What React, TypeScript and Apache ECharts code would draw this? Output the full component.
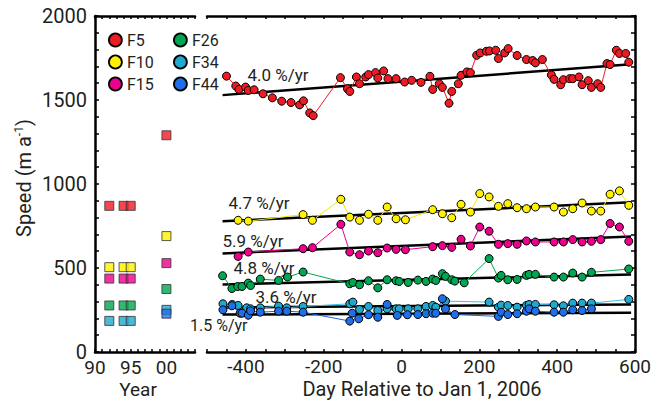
import React, { useEffect, useRef } from 'react';
import * as echarts from 'echarts';

const FONT = 'Roboto, "Noto Sans", sans-serif';
const TEXT = '#231f20';

const glacierNames = ['F5', 'F10', 'F15', 'F26', 'F34', 'F44'];
const markerColors = ['#ed1c24', '#fff200', '#ec008c', '#00a651', '#1fa8d0', '#1f6fe8'];
const lineColors = ['#ed1c24', '#f2e600', '#ec008c', '#00a651', '#3cbde0', '#1f5fe0'];

// Recent velocity series: [day relative to Jan 1 2006, speed m/a]
const f5 = [[-450,1642],[-426,1583],[-418,1563],[-401,1577],[-394,1557],[-379,1561],[-356,1537],[-332,1513],[-308,1493],[-284,1485],[-262,1471],[-252,1495],[-236,1423],[-227,1407],[-157,1633],[-139,1567],[-133,1551],[-116,1637],[-108,1597],[-92,1637],[-85,1651],[-67,1663],[-61,1631],[-46,1673],[-35,1627],[-14,1627],[8,1607],[26,1617],[50,1605],[73,1641],[80,1563],[97,1597],[105,1575],[122,1481],[129,1551],[146,1597],[153,1647],[168,1667],[177,1663],[193,1766],[202,1780],[218,1790],[226,1792],[242,1796],[249,1747],[265,1780],[274,1806],[297,1765],[321,1741],[337,1735],[344,1721],[362,1741],[385,1649],[392,1623],[409,1591],[416,1621],[432,1627],[440,1627],[456,1637],[464,1591],[480,1615],[488,1575],[504,1597],[512,1575],[528,1717],[536,1711],[552,1796],[560,1777],[576,1777],[584,1725]];
const f10 = [[-420,784],[-394,779],[-253,818],[-229,784],[-156,909],[-133,803],[-108,784],[-85,820],[-61,784],[-37,863],[-14,793],[10,787],[80,847],[105,823],[129,799],[153,879],[177,833],[201,943],[225,923],[249,867],[273,883],[297,859],[321,853],[344,863],[392,863],[416,833],[440,853],[464,887],[488,839],[512,839],[536,939],[560,959],[584,873]];
const f15 = [[-420,569],[-394,595],[-253,615],[-229,621],[-156,760],[-133,595],[-108,579],[-85,601],[-61,591],[-37,619],[-14,611],[10,609],[80,627],[105,633],[129,623],[153,671],[177,631],[201,744],[225,719],[249,641],[273,645],[297,641],[321,661],[344,655],[392,655],[416,655],[440,669],[464,655],[488,659],[512,669],[536,765],[560,744],[584,659]];
const f26 = [[-460,454],[-436,378],[-421,390],[-410,390],[-394,410],[-388,396],[-363,434],[-316,426],[-293,446],[-253,476],[-133,406],[-125,414],[-108,400],[-85,424],[-61,382],[-37,430],[-14,424],[-6,420],[17,414],[42,428],[63,420],[80,434],[88,426],[105,466],[113,450],[129,430],[137,422],[161,412],[225,556],[249,440],[256,456],[273,430],[297,432],[321,456],[328,462],[344,462],[392,446],[416,446],[440,470],[464,446],[488,474],[584,494]];
const f34 = [[-459,287],[-435,283],[-420,277],[-398,263],[-388,257],[-363,263],[-316,273],[-295,263],[-253,271],[-133,287],[-125,297],[-108,253],[-85,271],[-61,247],[-37,257],[-14,257],[-6,257],[17,257],[42,257],[63,271],[80,277],[88,267],[113,303],[225,297],[249,267],[256,279],[273,277],[297,267],[321,277],[328,283],[344,283],[392,281],[416,275],[440,291],[464,291],[488,291],[584,313]];
const f44 = [[-459,251],[-436,275],[-415,231],[-410,231],[-394,219],[-388,245],[-363,237],[-316,243],[-295,243],[-253,237],[-133,184],[-127,231],[-110,198],[-85,222],[-61,207],[-37,283],[-11,218],[15,222],[42,223],[63,228],[80,231],[88,231],[105,317],[113,257],[137,223],[249,212],[256,237],[273,223],[297,228],[321,243],[328,257],[344,243],[392,237],[416,237],[440,251],[464,247],[488,257]];
const recentSeries = [f5, f10, f15, f26, f34, f44];

// Linear trends (endpoints)
const trendDays = [-460, 590];
const trendF5 = [1529, 1713];
const trendF10 = [778, 891];
const trendF15 = [587, 688];
const trendF26 = [402, 462];
const trendF34 = [265, 283];
const trendF44 = [223, 233];
const trends = [trendF5, trendF10, trendF15, trendF26, trendF34, trendF44];
const rateLabels = ['4.0 %/yr', '4.7 %/yr', '5.9 %/yr', '4.8 %/yr', '3.6 %/yr', '1.5 %/yr'];

// Historic speeds
const historicYears = [1992, 1994, 1995, 2000];
const histF5 = [870, 870, 870, 1290];
const histF10 = [505, 505, 505, 690];
const histF15 = [437, 437, 437, 529];
const histF26 = [277, 277, 277, 375];
const histF34 = [185, 185, 185, 251];
const histF44 = [null, null, null, 228];
const historic = [histF5, histF10, histF15, histF26, histF34, histF44];

const yTicks = [0, 500, 1000, 1500, 2000];
const dayTicks = [-400, -200, 0, 200, 400, 600];

export default function App() {
  const ref = useRef<HTMLDivElement>(null);
  useEffect(() => {
    document.body.style.margin = '0';
    const chart = echarts.init(ref.current!, null, { renderer: 'svg' });
    const axisLine = { show: true, onZero: false, lineStyle: { color: '#000', width: 2.5 } };
    const tick = (len: number) => ({ show: true, inside: true, length: len, lineStyle: { color: '#000', width: 1.5 } });
    const labelStyle = { fontSize: 19, lineHeight: 16, color: TEXT, fontFamily: FONT };

    const series: any[] = [];
    glacierNames.forEach((name, i) => {
      series.push({
        name, type: 'line', xAxisIndex: 2, yAxisIndex: 1, data: recentSeries[i],
        symbol: 'circle', symbolSize: 8, z: 3,
        itemStyle: { color: markerColors[i], borderColor: '#000', borderWidth: 1 },
        lineStyle: { color: lineColors[i], width: 1 },
      });
    });
    trends.forEach((t, i) => {
      series.push({
        name: 'trend' + i, type: 'line', xAxisIndex: 2, yAxisIndex: 1,
        data: trendDays.map((d, k) => [d, t[k]]), symbol: 'none', z: 2, silent: true,
        lineStyle: { color: '#000', width: 2.5 },
      });
    });
    historic.forEach((h, i) => {
      series.push({
        name: glacierNames[i], type: 'scatter', xAxisIndex: 0, yAxisIndex: 0,
        data: historicYears.map((y, k) => [y, h[k]]).filter((p) => p[1] != null),
        symbol: 'rect', symbolSize: 9, z: 3,
        itemStyle: { color: markerColors[i], borderColor: '#333', borderWidth: 1 },
      });
    });

    const legendCommon = {
      orient: 'vertical', top: 27, icon: 'circle', itemWidth: 13, itemHeight: 13, itemGap: 6,
      selectedMode: false,
      itemStyle: { borderColor: '#000', borderWidth: 1.8 },
    };

    const rateText = (i: number, x: number, y: number, size = 17, align = 'center') => ({
      type: 'text', x, y, silent: true,
      style: { text: rateLabels[i], fontSize: size, fontFamily: FONT, fill: TEXT, align, verticalAlign: 'middle' },
    });

    chart.setOption({
      animation: false,
      textStyle: { fontFamily: FONT },
      grid: [
        { left: 95, top: 16, width: 100, height: 336 },
        { left: 207, top: 16, width: 428, height: 336 },
      ],
      xAxis: [
        { gridIndex: 0, type: 'value', min: 1990, max: 2004, interval: 1, position: 'bottom',
          axisLine, axisTick: tick(3), splitLine: { show: false },
          axisLabel: { ...labelStyle, margin: 7, interval: 0,
            formatter: (v: number) => (v % 5 === 0 ? String(v % 100).padStart(2, '0') : '') } },
        { gridIndex: 0, type: 'value', min: 1990, max: 2004, interval: 1, position: 'top',
          axisLine, axisTick: tick(3), splitLine: { show: false }, axisLabel: { show: false } },
        { gridIndex: 1, type: 'value', min: -500, max: 600, interval: 50, position: 'bottom',
          axisLine, axisTick: tick(3), splitLine: { show: false },
          axisLabel: { ...labelStyle, margin: 6,
            formatter: (v: number) => (dayTicks.includes(v) ? String(v) : '') } },
        { gridIndex: 1, type: 'value', min: -500, max: 600, interval: 50, position: 'top',
          axisLine, axisTick: tick(3), splitLine: { show: false }, axisLabel: { show: false } },
      ],
      yAxis: [
        { gridIndex: 0, type: 'value', min: 0, max: 2000, interval: 100, position: 'left',
          axisLine, axisTick: tick(4), splitLine: { show: false },
          axisLabel: { ...labelStyle, fontSize: 20, margin: 8,
            formatter: (v: number) => (yTicks.includes(v) ? String(v) : '') } },
        { gridIndex: 1, type: 'value', min: 0, max: 2000, interval: 100, position: 'right',
          axisLine, axisTick: tick(4), splitLine: { show: false }, axisLabel: { show: false } },
      ],
      legend: [
        { ...legendCommon, left: 103, data: glacierNames.slice(0, 3),
          textStyle: { fontSize: 16, lineHeight: 16, color: TEXT, fontFamily: FONT } },
        { ...legendCommon, left: 168, data: glacierNames.slice(3),
          textStyle: { fontSize: 16, lineHeight: 16, color: TEXT, fontFamily: FONT } },
      ],
      graphic: [
        { type: 'text', x: 24, y: 178, rotation: Math.PI / 2, silent: true,
          style: { text: 'Speed (m a{sup|-1})', fontSize: 20, fontFamily: FONT, fill: TEXT,
            align: 'center', verticalAlign: 'middle',
            rich: { sup: { fontSize: 12, fontFamily: FONT, fill: TEXT, verticalAlign: 'top', padding: [0, 0, 10, 0] } } } },
        { type: 'text', x: 138, y: 389, silent: true,
          style: { text: 'Year', fontSize: 19, lineHeight: 19, fontFamily: FONT, fill: TEXT, align: 'center', verticalAlign: 'middle' } },
        { type: 'text', x: 422, y: 389, silent: true,
          style: { text: 'Day Relative to Jan 1, 2006', fontSize: 20, lineHeight: 19, fontFamily: FONT, fill: TEXT, align: 'center', verticalAlign: 'middle' } },
        rateText(0, 278, 75),
        rateText(1, 259, 203),
        rateText(2, 253, 241),
        rateText(3, 264, 268),
        rateText(4, 286, 297),
        rateText(5, 190, 325, 16, 'left'),
      ],
      series,
    });
    return () => chart.dispose();
  }, []);
  return <div ref={ref} style={{ width: 665, height: 402 }} />;
}
